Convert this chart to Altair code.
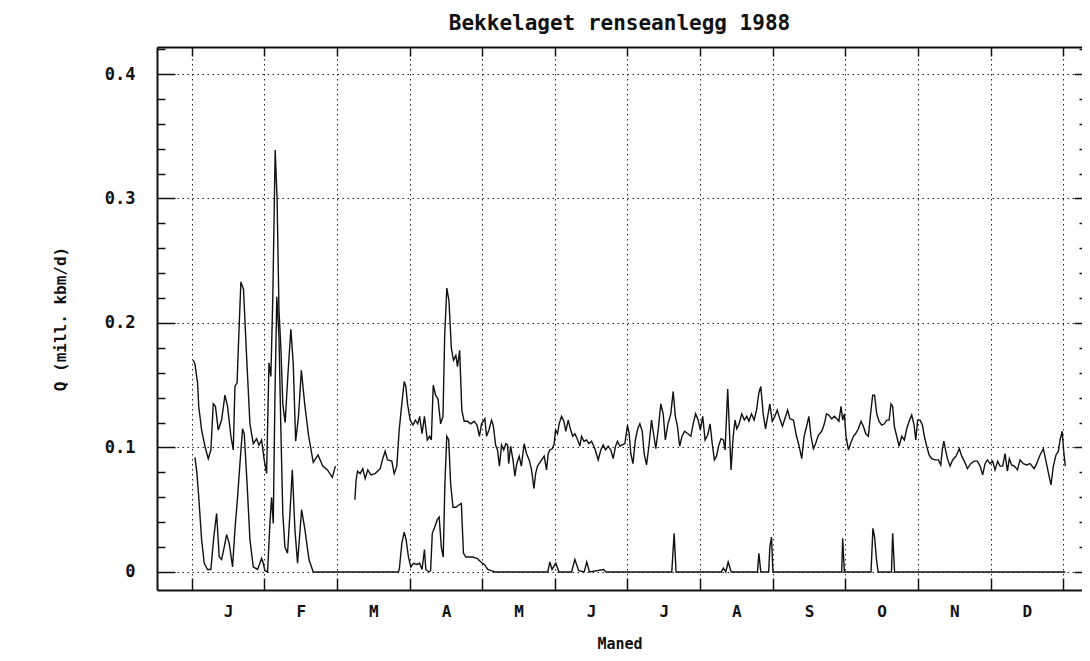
import altair as alt
import pandas as pd

TITLE = "Bekkelaget renseanlegg 1988"
Y_TITLE = "Q (mill. kbm/d)"
X_TITLE = "Maned"
MONTH_LETTERS = ["J", "F", "M", "A", "M", "J", "J", "A", "S", "O", "N", "D"]
Y_MAJOR = [0.0, 0.1, 0.2, 0.3, 0.4]
Y_MINOR = [round(0.02 * i, 2) for i in range(22)]
MONTH_EDGES = list(range(13))
MONTH_CENTERS = [i + 0.5 for i in range(12)]
DAYS_PER_MONTH = 30.5

# Upper series (total inflow), winter part (Jan-Feb), day of year and value
upper_a_days = [0.6, 1.3, 2.4, 2.9, 4.1, 5.5, 6.9, 8.0, 9.0, 9.9, 11.1, 12.5, 13.9, 15.0, 16.4,
                17.4, 18.1, 19.0, 19.7, 20.6, 21.7, 23.0, 24.4, 25.8, 27.2, 28.2, 29.3, 30.4,
                31.4, 32.4, 33.2, 34.0, 35.0, 35.8, 36.6, 37.4, 38.2, 39.2, 40.4, 41.6, 42.6,
                43.6, 44.8, 46.0, 47.4, 49.0, 51.0, 53.0, 55.0, 57.0, 59.0, 60.3]
upper_a_vals = [0.170, 0.167, 0.152, 0.133, 0.114, 0.101, 0.091, 0.098, 0.135, 0.133, 0.114,
                0.122, 0.142, 0.133, 0.109, 0.098, 0.149, 0.152, 0.189, 0.233, 0.227, 0.173,
                0.119, 0.103, 0.107, 0.102, 0.106, 0.090, 0.079, 0.168, 0.157, 0.220, 0.339,
                0.300, 0.210, 0.180, 0.135, 0.120, 0.160, 0.195, 0.167, 0.105, 0.125, 0.162,
                0.135, 0.110, 0.088, 0.094, 0.085, 0.082, 0.076, 0.085]

# Upper series, March-December
upper_b_days = [68.5, 69.0, 69.6, 70.7, 71.8, 72.8, 73.9, 75.2, 77.0, 79.1, 80.2, 81.2, 82.2,
                84.0, 85.0, 86.1, 87.1, 88.2, 89.2, 89.9, 90.6, 91.7, 92.9, 93.9, 94.9, 95.7,
                96.7, 97.7, 98.9, 99.9, 100.6, 101.4, 102.4, 103.4, 104.5, 105.5, 106.2, 107.1,
                108.0, 109.0, 109.9, 110.9, 111.6, 112.5, 113.4, 114.4, 115.8, 117.2, 118.6,
                119.8, 120.8, 121.7, 123.1, 123.8, 124.8, 125.9, 126.6, 127.6, 128.4, 129.2,
                130.1, 131.0, 131.9, 132.6, 133.1, 133.9, 134.9, 135.7, 136.5, 137.5, 138.4,
                139.6, 140.6, 141.7, 142.7, 143.7, 144.4, 145.2, 146.6, 148.0, 149.0, 149.7,
                150.4, 151.4, 152.2, 152.8, 153.6, 154.3, 155.3, 156.3, 157.1, 158.1, 159.0,
                160.0, 160.9, 162.1, 163.0, 163.7, 164.7, 165.8, 166.8, 167.9, 169.3, 170.7,
                171.8, 172.8, 173.8, 174.9, 176.0, 177.0, 178.0, 178.8, 179.8, 180.7, 181.9,
                183.0, 183.7, 184.4, 185.3, 186.3, 187.3, 188.2, 189.2, 190.0, 191.0, 192.0,
                193.1, 194.1, 194.9, 195.9, 197.0, 198.0, 198.9, 200.0, 201.2, 202.2, 203.1,
                204.0, 204.9, 205.9, 207.0, 208.4, 209.6, 210.6, 211.6, 212.7, 213.6, 214.6,
                215.6, 216.7, 217.7, 218.6, 219.5, 220.4, 221.4, 222.3, 223.3, 224.0, 225.1,
                226.5, 227.4, 228.2, 228.9, 229.9, 231.0, 232.1, 233.1, 234.0, 235.1, 236.2,
                237.2, 238.2, 239.0, 240.0, 241.0, 241.9, 242.8, 243.8, 244.9, 245.9, 247.0,
                248.1, 249.1, 250.3, 251.2, 252.7, 254.0, 255.0, 256.2, 257.2, 258.0, 259.2,
                260.1, 261.1, 262.0, 263.2, 264.6, 265.7, 266.6, 267.6, 268.8, 269.9, 270.9,
                271.8, 272.7, 273.4, 274.1, 274.8, 275.8, 276.7, 277.9, 278.8, 280.0, 281.1,
                282.1, 283.1, 284.2, 285.0, 286.0, 286.8, 287.7, 288.7, 289.8, 290.9, 291.9,
                292.9, 293.7, 294.4, 295.1, 296.1, 297.1, 298.2, 299.3, 300.3, 301.3, 302.4,
                303.4, 304.1, 304.9, 305.9, 306.9, 307.7, 308.7, 309.7, 310.8, 312.2, 313.6,
                314.6, 315.3, 315.9, 316.6, 317.4, 318.5, 319.6, 321.0, 322.4, 323.4, 324.5,
                325.8, 327.2, 328.6, 330.0, 331.1, 332.2, 333.2, 334.2, 335.3, 336.4, 337.4,
                338.5, 339.5, 340.6, 341.6, 342.6, 343.4, 344.4, 345.5, 346.8, 347.9, 349.3,
                350.7, 352.1, 353.8, 354.9, 356.3, 357.7, 358.8, 360.1, 360.9, 361.9, 363.0,
                364.0, 364.7, 365.6, 366.2, 366.9]
upper_b_vals = [0.058, 0.074, 0.081, 0.079, 0.083, 0.075, 0.082, 0.078, 0.079, 0.083, 0.091,
                0.097, 0.090, 0.089, 0.079, 0.085, 0.114, 0.135, 0.153, 0.149, 0.135, 0.122,
                0.118, 0.122, 0.119, 0.125, 0.111, 0.125, 0.106, 0.109, 0.106, 0.150, 0.142,
                0.139, 0.119, 0.125, 0.189, 0.228, 0.218, 0.180, 0.170, 0.174, 0.165, 0.178,
                0.130, 0.121, 0.121, 0.119, 0.121, 0.118, 0.109, 0.119, 0.123, 0.109, 0.114,
                0.122, 0.118, 0.102, 0.098, 0.085, 0.102, 0.098, 0.103, 0.102, 0.087, 0.101,
                0.090, 0.077, 0.087, 0.093, 0.085, 0.103, 0.095, 0.090, 0.082, 0.067, 0.079,
                0.085, 0.089, 0.093, 0.082, 0.095, 0.098, 0.099, 0.103, 0.114, 0.111, 0.119,
                0.125, 0.121, 0.113, 0.122, 0.115, 0.109, 0.111, 0.106, 0.101, 0.109, 0.105,
                0.106, 0.103, 0.105, 0.099, 0.090, 0.098, 0.102, 0.098, 0.101, 0.098, 0.091,
                0.101, 0.105, 0.101, 0.102, 0.103, 0.118, 0.111, 0.095, 0.087, 0.106, 0.115,
                0.119, 0.113, 0.095, 0.086, 0.101, 0.122, 0.109, 0.099, 0.114, 0.135, 0.127,
                0.106, 0.119, 0.127, 0.145, 0.125, 0.117, 0.101, 0.109, 0.113, 0.111, 0.109,
                0.119, 0.127, 0.122, 0.114, 0.125, 0.106, 0.110, 0.119, 0.103, 0.090, 0.093,
                0.102, 0.107, 0.106, 0.098, 0.147, 0.082, 0.109, 0.122, 0.115, 0.119, 0.127,
                0.122, 0.125, 0.121, 0.127, 0.122, 0.130, 0.144, 0.149, 0.127, 0.115, 0.125,
                0.135, 0.121, 0.125, 0.130, 0.123, 0.117, 0.123, 0.130, 0.123, 0.122, 0.109,
                0.102, 0.091, 0.109, 0.115, 0.125, 0.109, 0.099, 0.103, 0.110, 0.113, 0.119,
                0.127, 0.126, 0.123, 0.125, 0.123, 0.121, 0.133, 0.122, 0.127, 0.109, 0.098,
                0.103, 0.109, 0.111, 0.115, 0.121, 0.117, 0.111, 0.109, 0.125, 0.142, 0.142,
                0.127, 0.121, 0.118, 0.119, 0.122, 0.122, 0.135, 0.133, 0.117, 0.109, 0.101,
                0.109, 0.106, 0.115, 0.121, 0.126, 0.118, 0.106, 0.122, 0.122, 0.118, 0.109,
                0.101, 0.094, 0.091, 0.090, 0.090, 0.086, 0.099, 0.105, 0.098, 0.091, 0.085,
                0.090, 0.093, 0.099, 0.093, 0.089, 0.083, 0.087, 0.089, 0.089, 0.085, 0.078,
                0.087, 0.090, 0.087, 0.089, 0.082, 0.089, 0.085, 0.085, 0.095, 0.081, 0.091,
                0.086, 0.085, 0.082, 0.090, 0.087, 0.086, 0.087, 0.083, 0.087, 0.094, 0.099,
                0.089, 0.077, 0.070, 0.085, 0.094, 0.097, 0.106, 0.113, 0.098, 0.085]

# Lower series (overflow), whole year
lower_days = [1.3, 2.1, 2.9, 4.1, 5.2, 6.6, 8.0, 9.1, 10.4, 11.5, 12.5, 13.6, 14.6, 15.7, 17.1,
              18.1, 19.2, 20.2, 21.3, 22.0, 23.2, 24.4, 25.8, 27.6, 29.3, 30.0, 30.7, 31.8,
              32.8, 33.5, 34.2, 34.9, 35.7, 36.6, 37.4, 38.2, 39.1, 40.2, 41.2, 42.2, 43.3,
              44.4, 46.1, 47.5, 49.2, 51.0, 86.8, 87.2, 88.2, 89.2, 90.0, 91.0, 92.0, 93.1,
              94.5, 95.7, 96.7, 97.7, 98.3, 99.6, 100.3, 101.0, 102.0, 103.1, 103.9, 104.8,
              105.6, 106.3, 107.1, 107.9, 108.7, 109.7, 110.9, 112.3, 113.2, 114.1, 115.1,
              116.5, 117.9, 119.8, 121.4, 122.9, 124.3, 125.7, 127.5, 149.5, 150.4, 151.3,
              152.9, 154.2, 159.5, 160.9, 162.5, 164.8, 165.9, 167.0, 173.0, 174.0, 201.6,
              202.6, 203.4, 222.4, 223.3, 224.3, 225.3, 226.6, 237.6, 238.2, 239.0, 242.3,
              242.8, 243.5, 244.1, 273.0, 273.4, 274.1, 285.3, 286.1, 286.8, 287.6, 288.3,
              293.9, 294.4, 295.2, 366.9]
lower_vals = [0.092, 0.080, 0.060, 0.026, 0.007, 0.002, 0.002, 0.026, 0.047, 0.012, 0.010,
              0.020, 0.030, 0.023, 0.004, 0.034, 0.060, 0.087, 0.115, 0.111, 0.071, 0.026,
              0.004, 0.002, 0.011, 0.007, 0.001, 0.000, 0.039, 0.060, 0.039, 0.141, 0.221,
              0.189, 0.114, 0.047, 0.020, 0.015, 0.047, 0.082, 0.034, 0.007, 0.050, 0.034,
              0.010, 0.000, 0.000, 0.003, 0.023, 0.032, 0.026, 0.012, 0.004, 0.007, 0.006,
              0.007, 0.002, 0.018, 0.002, 0.000, 0.001, 0.031, 0.036, 0.042, 0.044, 0.020,
              0.012, 0.071, 0.109, 0.106, 0.071, 0.052, 0.052, 0.054, 0.055, 0.015, 0.012,
              0.012, 0.012, 0.011, 0.008, 0.006, 0.002, 0.001, 0.000, 0.000, 0.008, 0.002,
              0.007, 0.000, 0.000, 0.010, 0.001, 0.000, 0.008, 0.000, 0.002, 0.000, 0.000,
              0.031, 0.000, 0.000, 0.003, 0.000, 0.008, 0.000, 0.000, 0.015, 0.000, 0.000,
              0.020, 0.028, 0.000, 0.000, 0.027, 0.000, 0.000, 0.035, 0.028, 0.010, 0.000,
              0.000, 0.031, 0.000, 0.000]

upper = pd.DataFrame({
    "m": [d / DAYS_PER_MONTH for d in upper_a_days + upper_b_days],
    "v": upper_a_vals + upper_b_vals,
    "seg": ["a"] * len(upper_a_days) + ["b"] * len(upper_b_days),
})
lower = pd.DataFrame({
    "m": [d / DAYS_PER_MONTH for d in lower_days],
    "v": lower_vals,
})

W, H = 925, 543
FONT = "DejaVu Sans Mono"
INK = "#111"
xscale = alt.Scale(domain=[-0.48, 12.26], nice=False, zero=False)
yscale = alt.Scale(domain=[-0.0145, 0.4217], nice=False, zero=False)

letters_js = "[" + ",".join("'" + s + "'" for s in MONTH_LETTERS) + "]"
major_test = "abs(datum.value * 10 - round(datum.value * 10)) < 0.001"
dot = [1.5, 3.5]

layer_upper = alt.Chart(upper).mark_line(color=INK, strokeWidth=1.4).encode(
    x=alt.X("m:Q", scale=xscale, axis=alt.Axis(
        orient="bottom", values=MONTH_CENTERS, labelExpr=letters_js + "[floor(datum.value)]",
        ticks=False, grid=False, domain=True, domainColor=INK, domainWidth=2,
        title=X_TITLE,
        labelFont=FONT, labelFontSize=16, labelFontWeight="bold", labelColor=INK,
        labelPadding=13, titleFont=FONT, titleFontSize=15, titleFontWeight="bold",
        titleColor=INK, titlePadding=17)),
    y=alt.Y("v:Q", scale=yscale, axis=alt.Axis(
        orient="left", values=Y_MAJOR,
        labelExpr="datum.value == 0 ? '0' : format(datum.value, '.1f')",
        ticks=False, grid=True, gridDash=dot, gridColor="#222", gridWidth=1,
        domain=True, domainColor=INK, domainWidth=2, title=Y_TITLE,
        labelFont=FONT, labelFontSize=17, labelFontWeight="bold", labelColor=INK,
        labelPadding=22, titleFont=FONT, titleFontSize=16, titleFontWeight="bold",
        titleColor=INK, titlePadding=36)),
    detail="seg:N",
)

layer_lower = alt.Chart(lower).mark_line(color=INK, strokeWidth=1.4).encode(
    x=alt.X("m:Q", scale=xscale, axis=alt.Axis(
        orient="top", offset=-H, values=MONTH_EDGES, labels=False, ticks=True,
        tickSize=12, tickWidth=1.5, tickColor=INK, domain=False,
        grid=True, gridDash=dot, gridColor="#222", gridWidth=1, title=None)),
    y=alt.Y("v:Q", scale=yscale, axis=alt.Axis(
        orient="right", offset=-W, values=Y_MINOR, labels=False, ticks=True,
        tickSize={"condition": {"test": major_test, "value": 18}, "value": 8},
        tickWidth=1.5, tickColor=INK, domain=False, grid=False, title=None)),
)

layer_frame = alt.Chart(lower).mark_line(opacity=0).encode(
    x=alt.X("m:Q", scale=xscale, axis=alt.Axis(
        orient="bottom", offset=-H, values=MONTH_EDGES, labels=False, ticks=True,
        tickSize=9, tickWidth=1.5, tickColor=INK, domain=True, domainColor=INK,
        domainWidth=2, grid=False, title=None)),
    y=alt.Y("v:Q", scale=yscale, axis=alt.Axis(
        orient="left", offset=-W, values=Y_MINOR, labels=False, ticks=True,
        tickSize={"condition": {"test": major_test, "value": 8}, "value": 3},
        tickWidth=1.5, tickColor=INK, domain=False, grid=False, title=None)),
)

chart = alt.layer(layer_upper, layer_lower, layer_frame).resolve_axis(
    x="independent", y="independent"
).properties(
    width=W, height=H,
    title=alt.TitleParams(TITLE, font=FONT, fontSize=21, fontWeight="bold", color=INK,
                          anchor="middle", frame="group", offset=12),
    autosize=alt.AutoSizeParams(type="none"),
    padding={"left": 149, "top": 39, "right": 0, "bottom": 63},
).configure_view(
    stroke=None
).configure(background="white")

chart.save("out.html", embed_options={"renderer": "svg", "actions": False})
